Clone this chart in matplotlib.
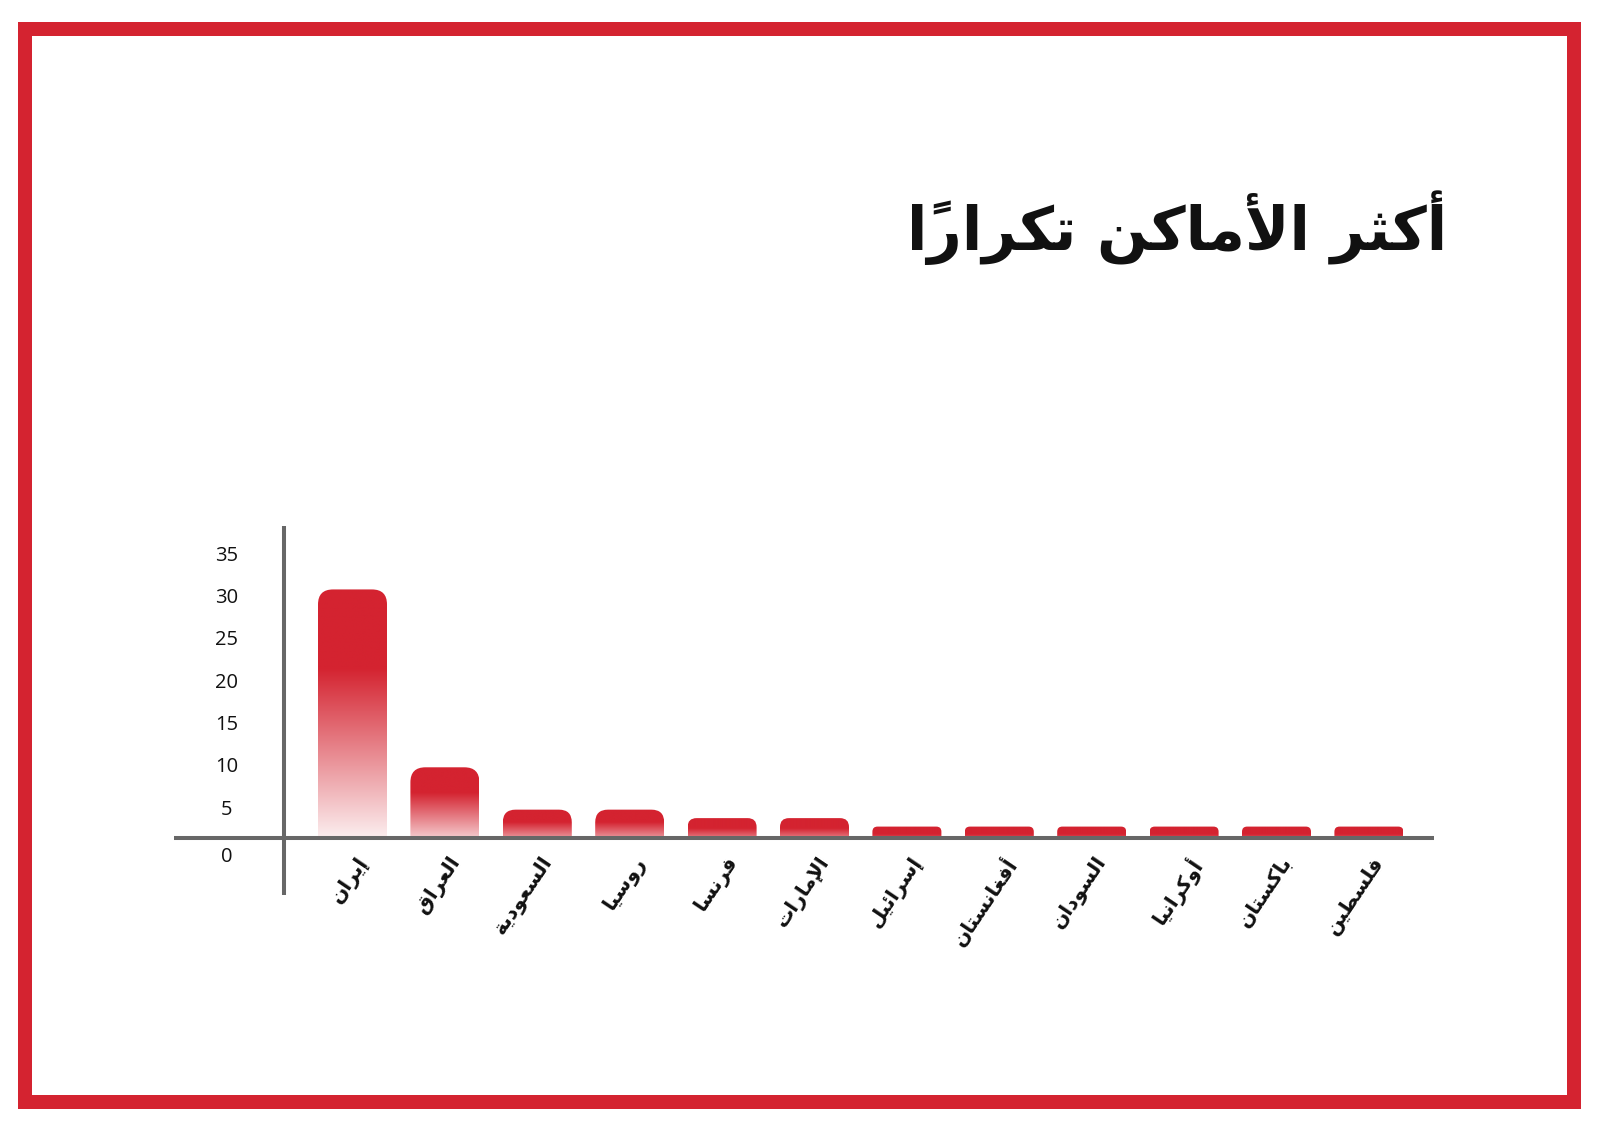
import unicodedata
import numpy as np
import matplotlib
matplotlib.use('Agg')
import matplotlib.pyplot as plt
from matplotlib.patches import FancyBboxPatch, Rectangle
from matplotlib.colors import to_rgb

# Chart data
title = 'أكثر الأماكن تكرارًا'
countries = ['إيران', 'العراق', 'السعودية', 'روسيا', 'فرنسا', 'الإمارات',
             'إسرائيل', 'أفغانستان', 'السودان', 'أوكرانيا', 'باكستان', 'فلسطين']
counts = [31, 10, 5, 5, 4, 4, 3, 3, 3, 3, 3, 3]
yticks = [0, 5, 10, 15, 20, 25, 30, 35]

RED = '#d42330'
GRAY = '#676767'
W, H = 1600, 1131

# --- minimal arabic shaping (matplotlib has no complex text layout) ---
FORMS = {}
for ch, start, n in [('ء', 0xFE80, 1), ('آ', 0xFE81, 2), ('أ', 0xFE83, 2), ('ؤ', 0xFE85, 2),
                     ('إ', 0xFE87, 2), ('ئ', 0xFE89, 4), ('ا', 0xFE8D, 2), ('ب', 0xFE8F, 4),
                     ('ة', 0xFE93, 2), ('ت', 0xFE95, 4), ('ث', 0xFE99, 4), ('ج', 0xFE9D, 4),
                     ('ح', 0xFEA1, 4), ('خ', 0xFEA5, 4), ('د', 0xFEA9, 2), ('ذ', 0xFEAB, 2),
                     ('ر', 0xFEAD, 2), ('ز', 0xFEAF, 2), ('س', 0xFEB1, 4), ('ش', 0xFEB5, 4),
                     ('ص', 0xFEB9, 4), ('ض', 0xFEBD, 4), ('ط', 0xFEC1, 4), ('ظ', 0xFEC5, 4),
                     ('ع', 0xFEC9, 4), ('غ', 0xFECD, 4), ('ف', 0xFED1, 4), ('ق', 0xFED5, 4),
                     ('ك', 0xFED9, 4), ('ل', 0xFEDD, 4), ('م', 0xFEE1, 4), ('ن', 0xFEE5, 4),
                     ('ه', 0xFEE9, 4), ('و', 0xFEED, 2), ('ى', 0xFEEF, 2), ('ي', 0xFEF1, 4)]:
    FORMS[ch] = (start, n)
LAM_ALEF = {'آ': 0xFEF5, 'أ': 0xFEF7, 'إ': 0xFEF9, 'ا': 0xFEFB}


def shape(text):
    clusters = []
    for ch in text:
        if unicodedata.combining(ch) and clusters:
            clusters[-1][1] += ch
        else:
            clusters.append([ch, ''])
    merged = []
    i = 0
    while i < len(clusters):
        c, m = clusters[i]
        if c == 'ل' and i + 1 < len(clusters) and clusters[i + 1][0] in LAM_ALEF:
            merged.append(['LA' + clusters[i + 1][0], m + clusters[i + 1][1]])
            i += 2
        else:
            merged.append([c, m])
            i += 1

    def dual(c):
        return c in FORMS and FORMS[c][1] == 4

    def joins_prev(c):
        return c.startswith('LA') or (c in FORMS and FORMS[c][1] >= 2)

    out = []
    for i, (c, m) in enumerate(merged):
        prev = merged[i - 1][0] if i > 0 else None
        nxt = merged[i + 1][0] if i + 1 < len(merged) else None
        p = prev is not None and dual(prev) and joins_prev(c)
        n = dual(c) and nxt is not None and joins_prev(nxt)
        if c.startswith('LA'):
            g = chr(LAM_ALEF[c[2]] + (1 if p else 0))
        elif c in FORMS:
            start, k = FORMS[c]
            if k == 4:
                idx = {(False, False): 0, (True, False): 1, (False, True): 2, (True, True): 3}[(p, n)]
            elif k == 2:
                idx = 1 if p else 0
            else:
                idx = 0
            g = chr(start + idx)
        else:
            g = c
        # marks go first so they sit over their base once the run is reversed
        out.append(m + g)
    return ''.join(reversed(out))


# pixel layout (from top-left of the image)
X0_PX, DX_PX = 352.5, 92.4     # first bar centre, bar spacing
Y0_PX, DY_PX = 852.0, 8.47     # value 0, pixels per unit


def px_x(px):
    return (px - X0_PX) / DX_PX


def px_y(px):
    return (Y0_PX - px) / DY_PX


fig = plt.figure(figsize=(W / 100, H / 100), dpi=100)
fig.patch.set_facecolor('white')

# red frame
fig.patches.append(Rectangle((25 / W, 1 - 1101.5 / H), (1574 - 25) / W, (1101.5 - 29) / H,
                             transform=fig.transFigure, fill=False, ec=RED, lw=14 * 0.72))

ax_l, ax_r, ax_t, ax_b = 160, 1450, 500, 960
ax = fig.add_axes([ax_l / W, 1 - ax_b / H, (ax_r - ax_l) / W, (ax_b - ax_t) / H])
ax.axis('off')

axis_y = px_y(838)
bar_w = 69 / DX_PX
red = np.array(to_rgb(RED))
white = np.ones(3)

for i, v in enumerate(counts):
    x0 = i - bar_w / 2
    vis_px = (v - axis_y) * DY_PX
    r_px = min(15, 0.45 * vis_px)
    clip = FancyBboxPatch((x0, axis_y - 3), bar_w, v - axis_y + 3,
                          boxstyle='round,pad=0,rounding_size=%f' % (r_px / DX_PX),
                          mutation_aspect=DX_PX / DY_PX, transform=ax.transData)
    ys = np.linspace(axis_y, v, 300)
    a = np.clip((ys / v) / 0.7, 0, 1)[:, None]
    img = (white * (1 - a) + red * a)[:, None, :]
    im = ax.imshow(img, extent=[x0, x0 + bar_w, axis_y, v], origin='lower',
                   aspect='auto', interpolation='bilinear', zorder=2)
    im.set_clip_path(clip)

# axis lines
ax.plot([px_x(174), px_x(1434)], [axis_y, axis_y], color=GRAY, lw=2.9,
        solid_capstyle='butt', zorder=5)
ax.plot([px_x(284), px_x(284)], [px_y(526), px_y(895)], color=GRAY, lw=2.9,
        solid_capstyle='butt', zorder=5)

# y tick labels
for t in yticks:
    yy = t if t else px_y(857)
    ax.text(px_x(227), yy, str(t), ha='center', va='center', fontsize=14.5,
            family='Open Sans', color='#111111')

# country labels
for i, name in enumerate(countries):
    ax.text(i + 3 / DX_PX, px_y(853), shape(name), rotation=56, rotation_mode='anchor',
            ha='right', va='top', fontsize=14.5, fontweight='bold',
            family='DejaVu Sans', color='#111111')

ax.set_xlim(px_x(ax_l), px_x(ax_r))
ax.set_ylim(px_y(ax_b), px_y(ax_t))

fig.text(1447 / W, 1 - 250 / H, shape(title), ha='right', va='baseline', fontsize=43,
         fontweight='bold', family='DejaVu Sans', color='#111111')

fig.savefig('out.png', dpi=100)
